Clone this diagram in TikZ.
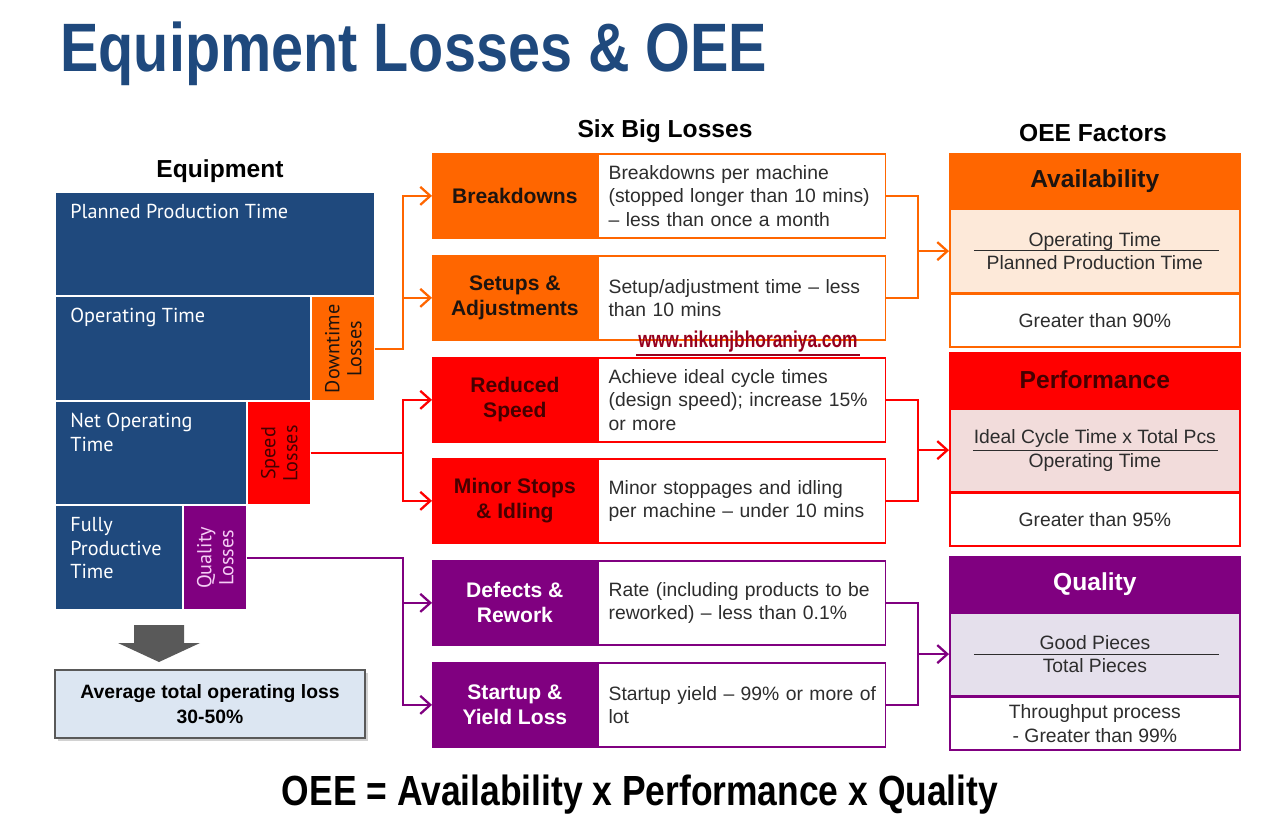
\documentclass[tikz,border=0pt]{standalone}
\usepackage{fontspec}
\setmainfont{Liberation Sans}
\newfontfamily\headfont[FakeStretch=0.84]{Liberation Sans}
\newfontfamily\markfont[FakeStretch=0.76]{Liberation Sans}
\newfontfamily\eqfont{PT Sans}
\usetikzlibrary{arrows.meta, positioning, calc, shadows}
\definecolor{cBlue}{RGB}{31,73,125}
\definecolor{cOrange}{RGB}{255,102,0}
\definecolor{cRed}{RGB}{255,0,0}
\definecolor{cPurple}{RGB}{128,0,128}
\definecolor{cPeach}{RGB}{253,233,217}
\definecolor{cPink}{RGB}{242,220,219}
\definecolor{cLilac}{RGB}{229,224,236}
\definecolor{cInk}{RGB}{30,20,15}
\definecolor{cMaroon}{RGB}{70,0,0}
\definecolor{cSoft}{RGB}{245,205,245}
\definecolor{cText}{RGB}{45,45,45}
\definecolor{cGrey}{RGB}{89,89,89}
\definecolor{cIce}{RGB}{220,230,242}
\definecolor{cMark}{RGB}{150,0,30}
\tikzset{
	heading/.style ={font=\bfseries\fontsize{14}{16}\selectfont, inner sep=0pt},
	% equipment time stack
	eqbox/.style   ={rectangle, fill=cBlue, inner sep=0pt, anchor=north west},
	eqtext/.style  ={anchor=north west, inner sep=0pt, xshift=0.28cm, yshift=-0.22cm, align=left, text=white, font=\eqfont\fontsize{11.5}{13.4}\selectfont},
	vloss/.style   ={rectangle, inner sep=0pt, anchor=north west, minimum width=1.24cm},
	vtext/.style   ={anchor=center, rotate=90, inner sep=0pt, align=center, font=\eqfont\fontsize{11.5}{12.6}\selectfont},
	% six big losses
	lossname/.style={rectangle, draw=#1, fill=#1, line width=1pt, anchor=north west, minimum width=3.28cm, minimum height=1.68cm, align=center, font=\bfseries\fontsize{12}{14.2}\selectfont},
	lossdesc/.style={rectangle, draw=#1, fill=white, line width=1pt, minimum width=5.74cm, minimum height=1.68cm, inner xsep=0.2cm, text width=5.34cm, align=left, text=cText, font=\fontsize{11}{13.3}\selectfont},
	% oee factors
	facthead/.style={rectangle, draw=#1, fill=#1, line width=1pt, anchor=north west, minimum width=5.8cm, minimum height=1.08cm, font=\bfseries\fontsize{14}{16}\selectfont},
	factbody/.style={rectangle, draw=#1, line width=1pt, minimum width=5.8cm, minimum height=1.66cm, align=center, text=cText, font=\fontsize{11}{13.6}\selectfont},
	factfoot/.style={rectangle, draw=#1, fill=white, line width=1pt, minimum width=5.8cm, minimum height=1.06cm, align=center, text=cText, font=\fontsize{11}{13.6}\selectfont},
	fracline/.style={draw=cText, line width=0.6pt},
	link/.style     ={draw=#1, line width=1.3pt},
	linkarrow/.style={link=#1, -{Straight Barb[length=2mm, width=3.6mm]}},
}
\begin{document}
\begin{tikzpicture}[x=0.02cm, y=-0.02cm,
		avgbox/.style={rectangle, draw=cGrey, fill=cIce, line width=1pt, minimum width=6.2cm, minimum height=1.36cm, align=center, font=\bfseries\fontsize{11}{14}\selectfont, drop shadow={shadow xshift=1.5pt, shadow yshift=-1.5pt, opacity=0.35}}]
	\useasboundingbox[fill=white] (0,0) rectangle (1280,820);
	\node[anchor=base west, inner sep=0pt, text=cBlue, font=\headfont\bfseries\fontsize{39}{40}\selectfont] (title) at (60,72) {Equipment Losses \& OEE};
	\node[heading] (eqhead) at (220,171) {Equipment};
	\node[heading] (sbhead) at (665,131) {Six Big Losses};
	\node[heading] (ofhead) at (1093,133) {OEE Factors};

	% equipment
	\node[eqbox, minimum width=6.36cm, minimum height=2.04cm, label={[eqtext]north west:Planned Production Time}] (ppt) at (56,193) {};
	\node[eqbox, minimum width=5.08cm, minimum height=2.06cm, label={[eqtext]north west:Operating Time}] (opt) at (56,297) {};
	\node[vloss, fill=cOrange, minimum height=2.06cm, label={[vtext, text=cInk]center:Downtime\\Losses}] (dtl) at (312,297) {};
	\node[eqbox, minimum width=3.80cm, minimum height=2.04cm, label={[eqtext]north west:Net Operating\\Time}] (nopt) at (56,402) {};
	\node[vloss, fill=cRed, minimum height=2.04cm, label={[vtext, text=cMaroon]center:Speed\\Losses}] (spl) at (248,402) {};
	\node[eqbox, minimum width=2.52cm, minimum height=2.06cm, label={[eqtext]north west:Fully\\Productive\\Time}] (fpt) at (56,506) {};
	\node[vloss, fill=cPurple, minimum height=2.06cm, label={[vtext, text=cSoft]center:Quality\\Losses}] (qul) at (184,506) {};

	\fill[cGrey] (134,625) -- (184,625) -- (184,643) -- (200,643) -- (159,662) -- (118,643) -- (134,643) -- cycle;
	\node[avgbox] (avg) at (210,704) {Average total operating loss\\30-50\%};

	% six big losses
	\node[lossname=cOrange, text=cInk] (brk) at (432,153) {Breakdowns};
	\node[lossdesc=cOrange, right=0pt of brk] (brkd) {Breakdowns per machine\\(stopped longer than 10 mins)\\-- less than once a month};
	\node[lossname=cOrange, text=cInk] (set) at (432,255) {Setups \&\\Adjustments};
	\node[lossdesc=cOrange, right=0pt of set] (setd) {Setup/adjustment time -- less\\than 10 mins};
	\node[lossname=cRed, text=cMaroon] (rsp) at (432,357) {Reduced\\Speed};
	\node[lossdesc=cRed, right=0pt of rsp] (rspd) {Achieve ideal cycle times\\(design speed); increase 15\%\\or more};
	\node[lossname=cRed, text=cMaroon] (mst) at (432,458) {Minor Stops\\\& Idling};
	\node[lossdesc=cRed, right=0pt of mst] (mstd) {Minor stoppages and idling\\per machine -- under 10 mins};
	\node[lossname=cPurple, text=white] (dfr) at (432,560) {Defects \&\\Rework};
	\node[lossdesc=cPurple, right=0pt of dfr] (dfrd) {Rate (including products to be\\reworked) -- less than 0.1\%};
	\node[lossname=cPurple, text=white] (syl) at (432,662) {Startup \&\\Yield Loss};
	\node[lossdesc=cPurple, right=0pt of syl] (syld) {\mbox{Startup yield -- 99\% or more of}\\lot};

	\node[font=\markfont\bfseries\fontsize{13}{13}\selectfont, text=cMark, inner sep=1pt] (wm) at (748,342) {www.nikunjbhoraniya.com};
	\draw[cMark, line width=1.4pt] (wm.south west) -- (wm.south east);

	% oee factors
	\node[facthead=cOrange, text=cInk] (avh) at (949,153) {Availability};
	\node[factbody=cOrange, fill=cPeach, below=0pt of avh] (avf) {Operating Time\\Planned Production Time};
	\node[factfoot=cOrange, below=0pt of avf] (avb) {Greater than 90\%};
	\node[facthead=cRed, text=cMaroon] (pfh) at (949,352) {Performance};
	\node[factbody=cRed, fill=cPink, below=0pt of pfh] (pff) {Ideal Cycle Time x Total Pcs\\Operating Time};
	\node[factfoot=cRed, below=0pt of pff] (pfb) {Greater than 95\%};
	\node[facthead=cPurple, text=white] (qlh) at (949,556) {Quality};
	\node[factbody=cPurple, fill=cLilac, below=0pt of qlh] (qlf) {Good Pieces\\Total Pieces};
	\node[factfoot=cPurple, below=0pt of qlf] (qlb) {Throughput process\\- Greater than 99\%};
	\draw[fracline] ($(avf.center)+(-121,-1)$) -- ($(avf.center)+(124,-1)$);
	\draw[fracline] ($(pff.center)+(-122,0)$) -- ($(pff.center)+(123,0)$);
	\draw[fracline] ($(qlf.center)+(-121,0)$) -- ($(qlf.center)+(124,0)$);

	% connectors
	\coordinate (busL) at (403,0);
	\coordinate (busR) at (918,0);
	\draw[linkarrow=cOrange] (dtl.east) -- (dtl.east -| busL) |- (brk.west);
	\draw[linkarrow=cOrange] (dtl.east -| busL) |- (set.west);
	\draw[linkarrow=cRed] (spl.east) -- (spl.east -| busL) |- (rsp.west);
	\draw[linkarrow=cRed] (spl.east -| busL) |- (mst.west);
	\draw[linkarrow=cPurple] (qul.east) -- (qul.east -| busL) |- (dfr.west);
	\draw[linkarrow=cPurple] (qul.east -| busL) |- (syl.west);
	\draw[link=cOrange] (brkd.east) -| (busR |- setd.east) -- (setd.east);
	\draw[linkarrow=cOrange] (busR |- avf.west) -- (avf.west);
	\draw[link=cRed] (rspd.east) -| (busR |- mstd.east) -- (mstd.east);
	\draw[linkarrow=cRed] (busR |- pff.west) -- (pff.west);
	\draw[link=cPurple] (dfrd.east) -| (busR |- syld.east) -- (syld.east);
	\draw[linkarrow=cPurple] (busR |- qlf.west) -- (qlf.west);

	\node[anchor=base, inner sep=0pt, font=\headfont\bfseries\fontsize{24}{26}\selectfont] (oee) at (640,805) {OEE = Availability x Performance x Quality};
\end{tikzpicture}
\end{document}
